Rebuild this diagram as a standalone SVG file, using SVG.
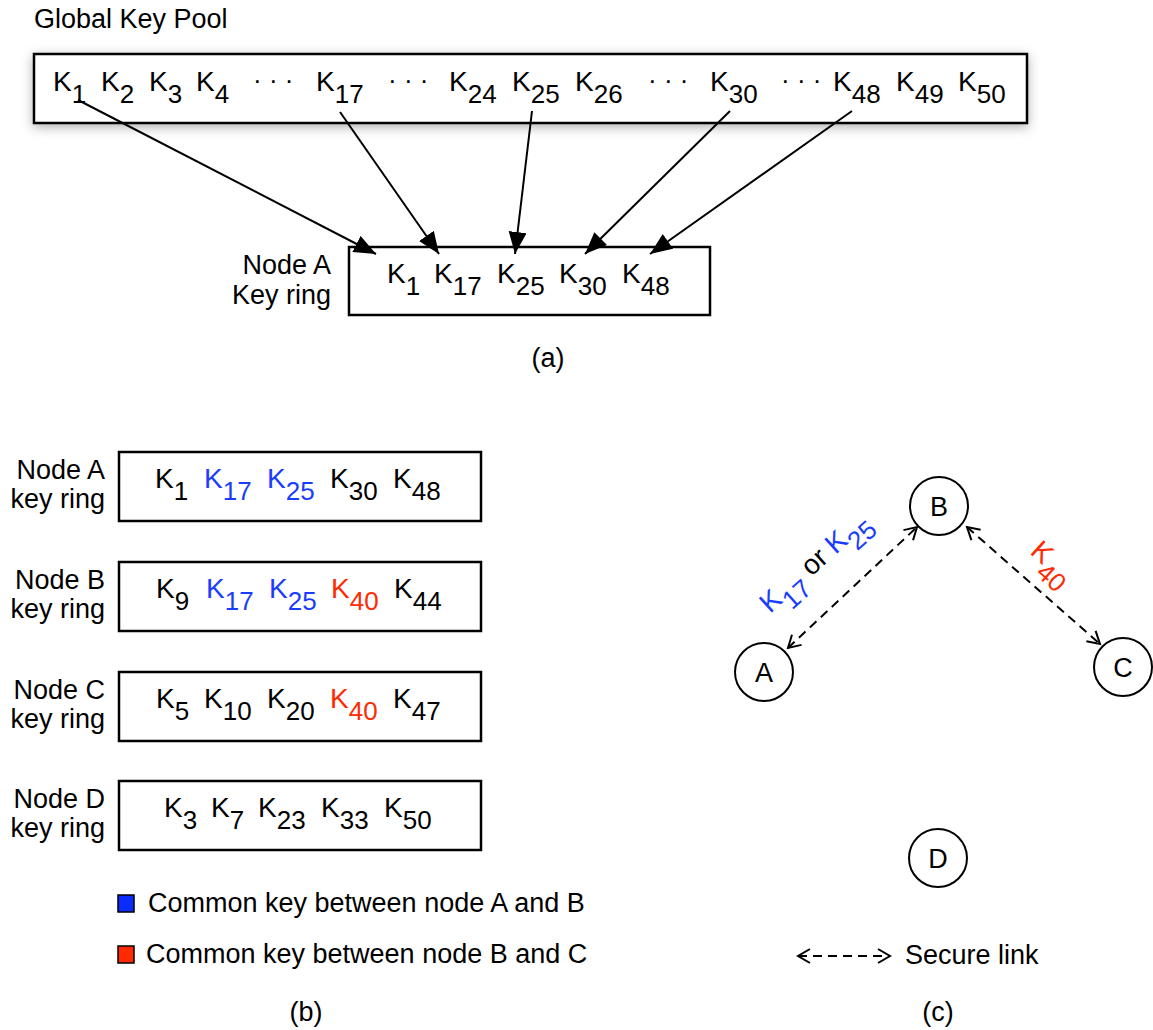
<svg xmlns="http://www.w3.org/2000/svg" width="1153" height="1030" viewBox="0 0 1153 1030">
<style>
text { font-family: "Liberation Sans", Arial, Helvetica, sans-serif; fill: #000; }
.lbl { font-size: 27px; }
.k { font-size: 28px; }
.s { font-size: 26px; }
.dots { font-size: 26px; }
.blue { fill: #1a3cff; }
.red { fill: #ff2a00; }
.box { fill: #fff; stroke: #000; stroke-width: 2.5; }
.arr { stroke: #000; stroke-width: 2; fill: none; }
.dash { stroke: #000; stroke-width: 2; fill: none; stroke-dasharray: 9 6; }
.circ { fill: #fff; stroke: #000; stroke-width: 2; }
.mid { text-anchor: middle; }
.end { text-anchor: end; }
</style>
<defs>
<filter id="shadow" x="-5%" y="-30%" width="110%" height="170%">
<feDropShadow dx="0" dy="3" stdDeviation="6" flood-color="#000" flood-opacity="0.3"/>
</filter>
<marker id="solid" markerUnits="userSpaceOnUse" markerWidth="24" markerHeight="20" refX="22" refY="9" orient="auto">
<path d="M0,0 L22,9 L0,18 z" fill="#000"/>
</marker>
<marker id="open" markerUnits="userSpaceOnUse" markerWidth="16" markerHeight="18" refX="13" refY="8" orient="auto-start-reverse">
<path d="M1,1 L13,8 L1,15" fill="none" stroke="#000" stroke-width="2"/>
</marker>
</defs>

<!-- (a) -->
<text class="lbl" x="34" y="28">Global Key Pool</text>
<g id="pool">
<rect class="box" x="34" y="54" width="993" height="69" filter="url(#shadow)"/>
<text class="k" x="53" y="91">K<tspan class="s" dy="12">1</tspan></text>
<text class="k" x="101" y="91">K<tspan class="s" dy="12">2</tspan></text>
<text class="k" x="149" y="91">K<tspan class="s" dy="12">3</tspan></text>
<text class="k" x="196" y="91">K<tspan class="s" dy="12">4</tspan></text>
<text class="dots" x="253" y="89">· · ·</text>
<text class="k" x="316" y="91">K<tspan class="s" dy="12">17</tspan></text>
<text class="dots" x="388" y="89">· · ·</text>
<text class="k" x="449" y="91">K<tspan class="s" dy="12">24</tspan></text>
<text class="k" x="512" y="91">K<tspan class="s" dy="12">25</tspan></text>
<text class="k" x="575" y="91">K<tspan class="s" dy="12">26</tspan></text>
<text class="dots" x="648" y="89">· · ·</text>
<text class="k" x="710" y="91">K<tspan class="s" dy="12">30</tspan></text>
<text class="dots" x="781" y="89">· · ·</text>
<text class="k" x="833" y="91">K<tspan class="s" dy="12">48</tspan></text>
<text class="k" x="896" y="91">K<tspan class="s" dy="12">49</tspan></text>
<text class="k" x="958" y="91">K<tspan class="s" dy="12">50</tspan></text>
</g>

<g id="ringA-a">
<rect class="box" x="349" y="247" width="361" height="68"/>
<text class="lbl end" x="331" y="274">Node A</text>
<text class="lbl end" x="331" y="304">Key ring</text>
<text class="k" x="387" y="283">K<tspan class="s" dy="12">1</tspan></text>
<text class="k" x="434" y="283">K<tspan class="s" dy="12">17</tspan></text>
<text class="k" x="497" y="283">K<tspan class="s" dy="12">25</tspan></text>
<text class="k" x="559" y="283">K<tspan class="s" dy="12">30</tspan></text>
<text class="k" x="622" y="283">K<tspan class="s" dy="12">48</tspan></text>
</g>

<g id="connectors-a">
<line class="arr" x1="78" y1="100" x2="376" y2="254" marker-end="url(#solid)"/>
<line class="arr" x1="340" y1="112" x2="439" y2="254" marker-end="url(#solid)"/>
<line class="arr" x1="532" y1="111" x2="515" y2="254" marker-end="url(#solid)"/>
<line class="arr" x1="730" y1="111" x2="585" y2="254" marker-end="url(#solid)"/>
<line class="arr" x1="852" y1="111" x2="650" y2="254" marker-end="url(#solid)"/>
</g>
<text class="lbl mid" x="548" y="367">(a)</text>

<!-- (b) -->
<g id="ringA">
<rect class="box" x="119" y="452" width="362" height="69"/>
<text class="lbl end" x="105" y="479">Node A</text>
<text class="lbl end" x="105" y="508">key ring</text>
<text class="k" x="155" y="488">K<tspan class="s" dy="12">1</tspan></text>
<text class="k blue" x="204" y="488">K<tspan class="s" dy="12">17</tspan></text>
<text class="k blue" x="267" y="488">K<tspan class="s" dy="12">25</tspan></text>
<text class="k" x="330" y="488">K<tspan class="s" dy="12">30</tspan></text>
<text class="k" x="393" y="488">K<tspan class="s" dy="12">48</tspan></text>
</g>
<g id="ringB">
<rect class="box" x="119" y="562" width="362" height="69"/>
<text class="lbl end" x="105" y="589">Node B</text>
<text class="lbl end" x="105" y="618">key ring</text>
<text class="k" x="156" y="598">K<tspan class="s" dy="12">9</tspan></text>
<text class="k blue" x="206" y="598">K<tspan class="s" dy="12">17</tspan></text>
<text class="k blue" x="269" y="598">K<tspan class="s" dy="12">25</tspan></text>
<text class="k red" x="331" y="598">K<tspan class="s" dy="12">40</tspan></text>
<text class="k" x="394" y="598">K<tspan class="s" dy="12">44</tspan></text>
</g>
<g id="ringC">
<rect class="box" x="119" y="672" width="362" height="69"/>
<text class="lbl end" x="105" y="699">Node C</text>
<text class="lbl end" x="105" y="728">key ring</text>
<text class="k" x="156" y="708">K<tspan class="s" dy="12">5</tspan></text>
<text class="k" x="204" y="708">K<tspan class="s" dy="12">10</tspan></text>
<text class="k" x="267" y="708">K<tspan class="s" dy="12">20</tspan></text>
<text class="k red" x="330" y="708">K<tspan class="s" dy="12">40</tspan></text>
<text class="k" x="393" y="708">K<tspan class="s" dy="12">47</tspan></text>
</g>
<g id="ringD">
<rect class="box" x="119" y="781" width="362" height="69"/>
<text class="lbl end" x="105" y="808">Node D</text>
<text class="lbl end" x="105" y="837">key ring</text>
<text class="k" x="164" y="817">K<tspan class="s" dy="12">3</tspan></text>
<text class="k" x="211" y="817">K<tspan class="s" dy="12">7</tspan></text>
<text class="k" x="258" y="817">K<tspan class="s" dy="12">23</tspan></text>
<text class="k" x="321" y="817">K<tspan class="s" dy="12">33</tspan></text>
<text class="k" x="384" y="817">K<tspan class="s" dy="12">50</tspan></text>
</g>
<g id="legend-b">
<rect x="118" y="895" width="16" height="17" fill="#0a2cff" stroke="#000" stroke-width="1.5"/>
<text class="lbl" x="148" y="912">Common key between node A and B</text>
<rect x="118" y="946" width="16" height="17" fill="#ff2a00" stroke="#000" stroke-width="1.5"/>
<text class="lbl" x="146" y="963">Common key between node B and C</text>
</g>
<text class="lbl mid" x="306" y="1021">(b)</text>

<!-- (c) -->
<g id="connectors-c">
<line class="dash" x1="788" y1="648" x2="917" y2="527" marker-start="url(#open)" marker-end="url(#open)"/>
<line class="dash" x1="967" y1="527" x2="1100" y2="644" marker-start="url(#open)" marker-end="url(#open)"/>
<text class="k" transform="translate(770,614) rotate(-42)"><tspan class="blue">K</tspan><tspan class="s blue" dy="12">17</tspan><tspan dy="-12"> or </tspan><tspan class="blue">K</tspan><tspan class="s blue" dy="12">25</tspan></text>
<text class="k red" transform="translate(1029,553) rotate(42)">K<tspan class="s" dy="12">40</tspan></text>
</g>
<g id="nodeB"><circle class="circ" cx="939" cy="506" r="29"/><text class="lbl mid" x="939" y="516">B</text></g>
<g id="nodeA"><circle class="circ" cx="764" cy="672" r="29"/><text class="lbl mid" x="764" y="682">A</text></g>
<g id="nodeC"><circle class="circ" cx="1123" cy="667" r="29"/><text class="lbl mid" x="1123" y="677">C</text></g>
<g id="nodeD"><circle class="circ" cx="938" cy="858" r="29"/><text class="lbl mid" x="938" y="868">D</text></g>
<g id="legend-c">
<line class="dash" x1="798" y1="956" x2="890" y2="956" stroke-dasharray="10 8" marker-start="url(#open)" marker-end="url(#open)"/>
<text class="lbl" x="905" y="964">Secure link</text>
</g>
<text class="lbl mid" x="938" y="1021">(c)</text>
</svg>
